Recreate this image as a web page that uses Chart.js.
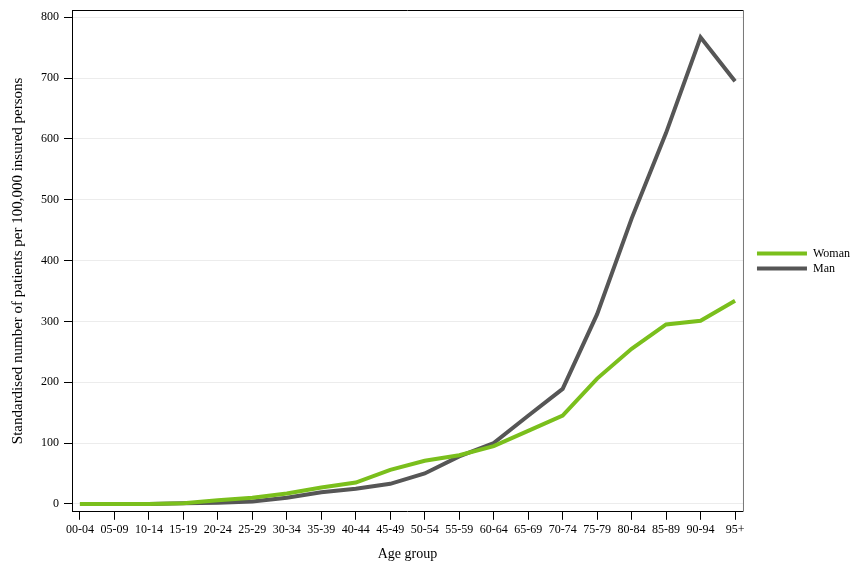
<!DOCTYPE html>
<html lang="en">
<head>
    <meta charset="UTF-8">
    <title>Patients per age group</title>
    <script src="https://cdn.jsdelivr.net/npm/chart.js@4"></script>
    <style>
        html, body {
            margin: 0;
            padding: 0;
            background: #ffffff;
        }

        .container {
            width: 864px;
            height: 576px;
        }
    </style>
</head>
<body>

    <div class="container">
        <canvas id="myChart" width="864" height="576"></canvas>
    </div>

    <script>
        const ageGroups = ['00-04', '05-09', '10-14', '15-19', '20-24', '25-29', '30-34', '35-39', '40-44', '45-49',
                           '50-54', '55-59', '60-64', '65-69', '70-74', '75-79', '80-84', '85-89', '90-94', '95+'];
        const womanValues = [0, 0, 0, 1, 6, 10, 17, 27, 35, 56, 71, 80, 95, 120, 145, 206, 255, 295, 301, 334];
        const manValues = [0, 0, 0, 1, 2, 4, 10, 19, 25, 33, 50, 78, 100, 145, 189, 312, 469, 610, 767, 695];
        const yTickValues = [0, 100, 200, 300, 400, 500, 600, 700, 800];

        const fontFamily = '"Liberation Serif", "Times New Roman", serif';

        function toPoints(values) {
            return values.map((v, i) => ({ x: i, y: v }));
        }

        // draws the top and right frame lines of the plot area
        const frame = {
            id: 'frame',
            afterDraw(chart) {
                const { ctx, chartArea } = chart;
                ctx.save();
                ctx.lineWidth = 1;
                ctx.strokeStyle = '#000000';
                ctx.beginPath();
                ctx.moveTo(chartArea.left, chartArea.top + 0.5);
                ctx.lineTo(chartArea.right, chartArea.top + 0.5);
                ctx.stroke();
                ctx.strokeStyle = '#777777';
                ctx.beginPath();
                ctx.moveTo(chartArea.right + 0.5, chartArea.top);
                ctx.lineTo(chartArea.right + 0.5, chartArea.bottom);
                ctx.stroke();
                ctx.restore();
            }
        };

        const ctx = document.getElementById('myChart').getContext('2d');
        const chart = new Chart(ctx, {
            type: 'line',
            data: {
                datasets: [{
                    label: 'Woman',
                    data: toPoints(womanValues),
                    borderColor: '#7abf1c',
                    backgroundColor: '#7abf1c',
                    borderWidth: 4,
                    pointRadius: 0,
                    fill: false
                }, {
                    label: 'Man',
                    data: toPoints(manValues),
                    borderColor: '#565656',
                    backgroundColor: '#565656',
                    borderWidth: 4,
                    pointRadius: 0,
                    fill: false
                }]
            },
            options: {
                responsive: false,
                animation: false,
                layout: {
                    padding: { top: 10, right: 4, bottom: 13, left: 9 }
                },
                plugins: {
                    tooltip: { enabled: false },
                    legend: {
                        position: 'right',
                        fullSize: false,
                        labels: {
                            usePointStyle: true,
                            pointStyle: 'line',
                            pointStyleWidth: 50,
                            boxWidth: 50,
                            padding: 3,
                            color: '#000000',
                            font: { family: fontFamily, size: 12 },
                            generateLabels(chart) {
                                return chart.data.datasets.map((ds, i) => ({
                                    text: ds.label,
                                    strokeStyle: ds.borderColor,
                                    fillStyle: ds.borderColor,
                                    lineWidth: 4,
                                    pointStyle: 'line',
                                    datasetIndex: i
                                }));
                            }
                        }
                    }
                },
                scales: {
                    x: {
                        type: 'linear',
                        min: -0.23,
                        max: 19.23,
                        afterBuildTicks(scale) {
                            scale.ticks = ageGroups.map((_, i) => ({ value: i }));
                        },
                        grid: {
                            drawOnChartArea: false,
                            tickLength: 8,
                            tickColor: '#000000'
                        },
                        border: { color: '#000000', width: 1 },
                        ticks: {
                            autoSkip: false,
                            maxRotation: 0,
                            color: '#000000',
                            font: { family: fontFamily, size: 12 },
                            callback: (value) => ageGroups[value]
                        },
                        title: {
                            display: true,
                            text: 'Age group',
                            color: '#000000',
                            font: { family: fontFamily, size: 14 },
                            padding: { top: 6, bottom: 0 }
                        }
                    },
                    y: {
                        min: -13,
                        max: 812,
                        afterBuildTicks(scale) {
                            scale.ticks = yTickValues.map(v => ({ value: v }));
                        },
                        afterFit(scale) {
                            scale.paddingTop = 0;
                            scale.paddingBottom = 0;
                        },
                        grid: {
                            color: '#ececec',
                            tickLength: 8,
                            tickColor: '#000000'
                        },
                        border: { color: '#000000', width: 1 },
                        ticks: {
                            color: '#000000',
                            padding: 5,
                            font: { family: fontFamily, size: 12 }
                        },
                        title: {
                            display: true,
                            text: 'Standardised number of patients per 100,000 insured persons',
                            color: '#000000',
                            font: { family: fontFamily, size: 15 },
                            padding: { top: 0, bottom: 9 }
                        }
                    },
                    // empty axis, only keeps a gap between the plot and the legend
                    gap: {
                        axis: 'y',
                        position: 'right',
                        min: 0,
                        max: 1,
                        afterFit(scale) {
                            scale.width = 11;
                        },
                        grid: { display: false },
                        border: { display: false },
                        ticks: { display: false }
                    }
                }
            },
            plugins: [frame]
        });
    </script>

</body>
</html>
